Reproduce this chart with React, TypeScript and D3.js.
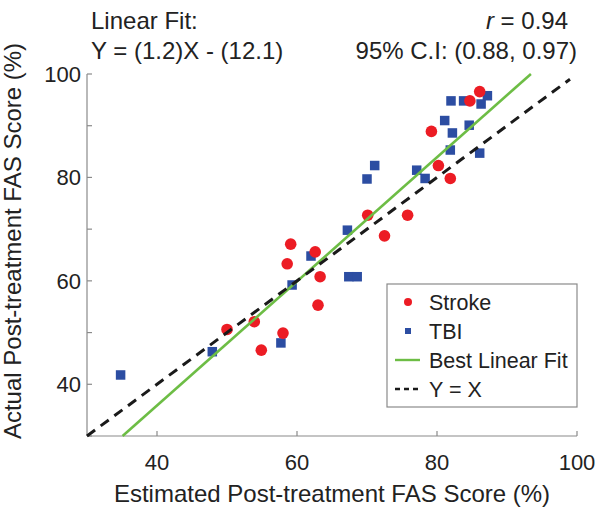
import * as d3 from "d3"

const strokeX = [59.1, 62.6, 58.6, 63.3, 63.0, 53.9, 50.0, 58.0, 54.9, 70.1, 75.8, 72.5, 80.2, 81.9, 86.1, 84.7, 79.2]
const strokeY = [67.1, 65.6, 63.3, 60.8, 55.3, 52.1, 50.6, 49.9, 46.6, 72.7, 72.7, 68.7, 82.3, 79.8, 96.6, 94.8, 88.9]
const tbiX = [34.8, 47.9, 57.7, 59.3, 62.0, 67.4, 68.6, 67.2, 70.0, 71.1, 77.1, 78.3, 82.0, 83.8, 87.2, 86.3, 81.1, 84.6, 82.2, 81.9, 86.1]
const tbiY = [41.8, 46.3, 48.0, 59.2, 64.8, 60.8, 60.8, 69.8, 79.7, 82.3, 81.4, 79.8, 94.8, 94.8, 95.8, 94.2, 91.0, 90.1, 88.6, 85.3, 84.7]
const fitSlope = 1.2
const fitIntercept = -12.1
const xTicks = [40, 60, 80, 100]
const yTicks = [30, 40, 50, 60, 70, 80, 90, 100]
const yLabels = [40, 60, 80, 100]
const legendItems = ["Stroke", "TBI", "Best Linear Fit", "Y = X"]

const RED = "#ec1c24"
const BLUE = "#2c4da2"
const GREEN = "#6dbd45"
const AXIS = "#8a8a8a"
const TEXT = "#222"
const FONT = "'Liberation Sans', Arial, Helvetica, sans-serif"

export default function App() {
  const width = 597
  const height = 508
  const x = d3.scaleLinear().domain([30, 100]).range([87, 577])
  const y = d3.scaleLinear().domain([30, 100]).range([436, 74])

  const line = d3
    .line<[number, number]>()
    .x((d) => x(d[0]))
    .y((d) => y(d[1]))

  const fitX0 = (30 - fitIntercept) / fitSlope
  const fitX1 = (100 - fitIntercept) / fitSlope
  const fitPts: [number, number][] = [
    [fitX0, fitSlope * fitX0 + fitIntercept],
    [fitX1, fitSlope * fitX1 + fitIntercept],
  ]
  const idPts: [number, number][] = [
    [30, 30],
    [99, 99],
  ]

  const [x0, x1] = x.range()
  const [yb, yt] = y.range()
  const sq = 9.5

  // legend
  const lg = { x: 387, y: 284, w: 190, h: 123 }
  const rowY = (i: number) => lg.y + 18 + i * 29

  return (
    <svg
      width={width}
      height={height}
      style={{ position: "absolute", left: 0, top: 0, background: "#fff" }}
      fontFamily={FONT}
    >
      {/* header */}
      <g fill={TEXT} fontSize={24}>
        <text x={91} y={29}>Linear Fit:</text>
        <text x={91} y={59}>Y = (1.2)X - (12.1)</text>
        <text x={568} y={29} textAnchor="end">
          <tspan fontStyle="italic">r</tspan> = 0.94
        </text>
        <text x={577} y={59} textAnchor="end">95% C.I: (0.88, 0.97)</text>
      </g>

      {/* axes */}
      <g stroke={AXIS} strokeWidth={1.2} fill="none">
        <line x1={x0} y1={yb} x2={x1} y2={yb} />
        <line x1={x0} y1={yb} x2={x0} y2={yt} />
        {xTicks.map((t) => (
          <line key={"xt" + t} x1={x(t)} x2={x(t)} y1={yb} y2={yb - 5} />
        ))}
        {yTicks.map((t) => (
          <line key={"yt" + t} x1={x0} x2={x0 + 5} y1={y(t)} y2={y(t)} />
        ))}
      </g>
      <g fill={TEXT} fontSize={22}>
        {xTicks.map((t) => (
          <text key={"xl" + t} x={x(t)} y={470} textAnchor="middle">
            {t}
          </text>
        ))}
        {yLabels.map((t) => (
          <text key={"yl" + t} x={81} y={y(t)} dy="0.35em" textAnchor="end">
            {t}
          </text>
        ))}
      </g>
      <text x={(x0 + x1) / 2} y={502} textAnchor="middle" fontSize={24} fill={TEXT}>
        Estimated Post-treatment FAS Score (%)
      </text>
      <text
        transform={`translate(21,241) rotate(-90)`}
        textAnchor="middle"
        fontSize={24}
        fill={TEXT}
      >
        Actual Post-treatment FAS Score (%)
      </text>

      {/* points */}
      <g fill={BLUE}>
        {tbiX.map((v, i) => (
          <rect key={"t" + i} x={x(v) - sq / 2} y={y(tbiY[i]) - sq / 2} width={sq} height={sq} />
        ))}
      </g>
      <g fill={RED}>
        {strokeX.map((v, i) => (
          <circle key={"s" + i} cx={x(v)} cy={y(strokeY[i])} r={5.8} />
        ))}
      </g>

      {/* lines */}
      <path d={line(fitPts) || ""} stroke={GREEN} strokeWidth={2.6} fill="none" />
      <path d={line(idPts) || ""} stroke="#1a1a1a" strokeWidth={3} strokeDasharray="10 7" fill="none" />

      {/* legend */}
      <rect x={lg.x} y={lg.y} width={lg.w} height={lg.h} fill="#fff" stroke={AXIS} strokeWidth={1.2} />
      <circle cx={408} cy={rowY(0)} r={4} fill={RED} />
      <rect x={405} y={rowY(1) - 3} width={6} height={6} fill={BLUE} />
      <line x1={395} x2={420} y1={rowY(2)} y2={rowY(2)} stroke={GREEN} strokeWidth={2.4} />
      <line x1={395} x2={420} y1={rowY(3)} y2={rowY(3)} stroke="#1a1a1a" strokeWidth={2.4} strokeDasharray="5 4" />
      <g fill={TEXT} fontSize={21.5}>
        {legendItems.map((s, i) => (
          <text key={s} x={429} y={rowY(i)} dy="0.36em">
            {s}
          </text>
        ))}
      </g>
    </svg>
  )
}
